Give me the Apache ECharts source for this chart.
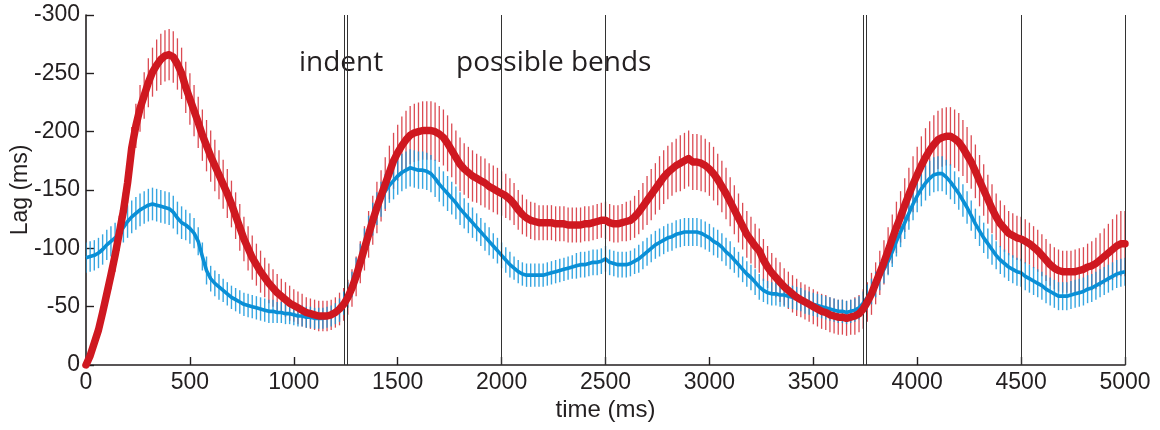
<!DOCTYPE html>
<html>
<head>
<meta charset="utf-8">
<script src="https://cdn.jsdelivr.net/npm/echarts/dist/echarts.min.js"></script>
<style>
html,body{margin:0;padding:0;background:#fff;}
#chart{width:1160px;height:430px;}
</style>
</head>
<body>
<div id="chart"></div>
<script>
// sample step of the recording (ms)
const stepMs = 20;

// red (thick) series: mean lag, ms, one value every 20 ms from 0 to 5000
const redLag = [
  0,-8,-19,-30,-45,-61,-77,-94,-113,-132,
  -156,-186,-205,-220,-231,-242,-251,-257,-262,-265,
  -266,-264,-258,-250,-238,-228,-218,-208,-197,-188,
  -179,-171,-163,-155,-147,-138,-128,-118,-108,-100,
  -92,-86,-80,-75,-70,-66,-62,-59,-56,-53,
  -51,-49,-47,-45,-44,-43,-42,-42,-42,-43,
  -45,-48,-52,-58,-66,-76,-88,-100,-112,-124,
  -135,-145,-155,-165,-175,-182,-188,-193,-197,-199,
  -200,-201,-201,-201,-200,-198,-195,-190,-184,-178,
  -172,-168,-165,-162,-160,-158,-156,-153,-151,-149,
  -147,-145,-142,-138,-133,-129,-126,-124,-123,-122,
  -122,-122,-122,-121,-121,-121,-120,-120,-120,-120,
  -121,-121,-122,-123,-124,-124,-122,-121,-121,-122,
  -123,-124,-127,-131,-136,-141,-146,-151,-156,-161,
  -165,-168,-171,-173,-175,-177,-174,-174,-173,-171,
  -168,-164,-159,-153,-147,-140,-133,-126,-119,-112,
  -107,-102,-98,-90,-84,-79,-75,-71,-67,-64,
  -61,-58,-56,-54,-52,-50,-48,-46,-45,-43,
  -42,-41,-41,-40,-41,-42,-44,-48,-54,-61,
  -70,-79,-88,-98,-108,-118,-127,-137,-146,-155,
  -163,-171,-178,-184,-189,-193,-195,-196,-196,-194,
  -191,-186,-180,-174,-166,-158,-150,-142,-134,-127,
  -121,-117,-113,-111,-109,-108,-106,-104,-101,-98,
  -94,-90,-86,-83,-81,-80,-80,-80,-80,-81,
  -82,-84,-85,-87,-90,-93,-96,-99,-102,-104,
  -104
];

// red error bar half-lengths (ms)
const redErr = [
  0,2,4,6,8,10,12,14,15,16,
  17,18,19,20,20,21,21,22,22,22,
  22,22,22,22,22,22,22,22,22,22,
  22,22,21,21,21,20,20,20,19,19,
  19,18,18,17,17,16,16,15,15,15,
  14,14,14,13,13,13,13,13,13,13,
  13,14,14,15,16,17,18,19,20,21,
  22,22,23,23,24,24,25,25,25,25,
  25,25,25,25,25,24,24,24,23,23,
  23,22,22,22,21,21,21,20,20,20,
  19,19,18,18,17,17,16,16,16,15,
  15,15,15,15,15,15,15,15,15,15,
  15,15,15,15,15,16,16,16,16,16,
  17,17,18,19,20,21,22,22,23,23,
  23,23,23,24,24,24,24,24,24,23,
  23,23,22,22,22,21,21,21,20,20,
  20,19,19,18,18,17,17,17,16,16,
  16,16,15,15,15,15,15,15,15,15,
  15,15,15,15,15,16,16,17,17,18,
  18,19,19,20,21,22,22,23,23,24,
  24,25,25,25,25,25,25,25,25,25,
  25,24,24,23,23,22,22,21,21,20,
  20,20,19,19,19,19,19,18,18,18,
  18,18,18,18,18,18,18,18,19,19,
  19,20,21,22,23,24,25,26,27,28,
  28
];

// blue (thin) series: mean lag, ms, one value every 20 ms from 0 to 5000
const blueLag = [
  -92,-93,-94,-96,-99,-103,-106,-109,-113,-118,
  -123,-127,-130,-133,-135,-137,-138,-137,-136,-135,
  -134,-131,-126,-122,-120,-117,-113,-106,-93,-81,
  -74,-70,-67,-64,-61,-58,-56,-54,-52,-51,
  -50,-49,-48,-47,-46,-46,-45,-45,-44,-44,
  -43,-42,-42,-41,-41,-40,-40,-40,-41,-42,
  -44,-47,-53,-60,-69,-80,-92,-104,-115,-125,
  -134,-142,-149,-154,-158,-162,-165,-167,-169,-168,
  -167,-167,-166,-164,-160,-155,-151,-147,-143,-139,
  -134,-130,-126,-122,-118,-114,-110,-106,-102,-98,
  -94,-90,-86,-83,-80,-78,-77,-77,-77,-77,
  -77,-78,-79,-80,-81,-82,-83,-84,-85,-86,
  -86,-87,-88,-88,-89,-91,-88,-87,-86,-86,
  -86,-87,-89,-91,-94,-97,-100,-103,-105,-107,
  -109,-110,-112,-113,-114,-114,-114,-114,-113,-111,
  -109,-106,-104,-101,-97,-94,-90,-86,-82,-78,
  -75,-71,-67,-64,-62,-61,-61,-60,-60,-59,
  -58,-57,-56,-54,-53,-52,-51,-50,-49,-48,
  -47,-46,-46,-45,-46,-47,-49,-53,-58,-63,
  -69,-76,-82,-89,-97,-106,-114,-122,-130,-138,
  -145,-151,-156,-160,-163,-164,-164,-161,-157,-152,
  -147,-141,-135,-128,-121,-115,-109,-104,-99,-94,
  -90,-87,-84,-82,-80,-79,-76,-74,-72,-70,
  -68,-65,-63,-61,-59,-59,-59,-60,-61,-62,
  -63,-65,-66,-68,-70,-72,-74,-76,-78,-79,
  -80
];

// blue error bar half-lengths (ms)
const blueErr = [
  13,13,13,13,13,13,13,13,13,13,
  14,14,14,14,14,14,14,14,14,14,
  14,14,14,14,13,13,13,12,12,12,
  11,11,11,10,10,10,10,10,10,10,
  10,10,10,10,10,10,9,9,9,9,
  9,9,9,9,9,9,9,9,9,9,
  9,10,10,11,11,12,12,13,13,14,
  14,15,15,15,16,16,16,16,16,16,
  16,16,16,16,16,15,15,15,14,14,
  14,13,13,13,12,12,12,12,11,11,
  11,11,11,10,10,10,10,10,10,10,
  10,10,10,10,10,10,10,10,11,11,
  11,11,11,11,11,11,11,11,11,11,
  11,11,11,12,12,12,12,12,12,12,
  12,12,12,12,12,12,12,12,12,12,
  12,12,12,12,12,12,11,11,11,11,
  11,11,11,10,10,10,10,10,10,10,
  10,10,10,10,10,10,10,10,10,10,
  10,10,10,10,10,10,10,10,11,11,
  11,12,12,12,13,13,13,14,14,14,
  14,15,15,15,15,15,15,15,15,14,
  14,14,14,13,13,13,13,13,13,12,
  12,12,12,12,12,12,12,12,12,12,
  12,12,12,12,12,12,12,12,12,12,
  12,12,12,12,12,12,12,12,12,12,
  12
];

// vertical event markers (ms)
const markerTimes = [1242, 1258, 2000, 2500, 3742, 3756, 4500, 5000];

// axis ticks
const xTicks = { min: 0, max: 5000, interval: 500 };
const yTicks = { min: -300, max: 0, interval: 50 };

// annotations
const annotations = ["indent", "possible bends"];

const times = redLag.map((_, i) => i * stepMs);
const redLine = times.map((t, i) => [t, redLag[i]]);
const blueLine = times.map((t, i) => [t, blueLag[i]]);
const redBars = times.map((t, i) => [t, redLag[i], redErr[i]]);
const blueBars = times.map((t, i) => [t, blueLag[i], blueErr[i]]);

function errRender(color, width) {
  return function (params, api) {
    const t = api.value(0), v = api.value(1), e = api.value(2);
    const a = api.coord([t, v - e]);
    const b = api.coord([t, v + e]);
    return {
      type: 'line',
      shape: { x1: a[0], y1: a[1], x2: b[0], y2: b[1] },
      style: { stroke: color, lineWidth: width }
    };
  };
}

const axisFont = "'Liberation Sans',Arial,sans-serif";
const ink = '#231f20';

const chart = echarts.init(document.getElementById('chart'), null, { renderer: 'canvas' });
chart.setOption({
  animation: false,
  backgroundColor: '#ffffff',
  grid: { left: 86, right: 35, top: 15, bottom: 65, containLabel: false, outerBoundsMode: 'none' },
  xAxis: {
    type: 'value',
    min: xTicks.min, max: xTicks.max, interval: xTicks.interval,
    name: 'time (ms)', nameLocation: 'middle', nameGap: 33, nameMoveOverlap: false,
    nameTextStyle: { fontFamily: axisFont, fontSize: 24, color: ink },
    axisLine: { show: true, onZero: false, lineStyle: { color: ink, width: 1.6 } },
    axisTick: { show: true, inside: true, length: 8, lineStyle: { color: ink, width: 1.4 } },
    axisLabel: { fontFamily: axisFont, fontSize: 23, color: ink, margin: 6, formatter: v => String(v) },
    splitLine: { show: false }
  },
  yAxis: {
    type: 'value', inverse: true,
    min: yTicks.min, max: yTicks.max, interval: yTicks.interval,
    name: 'Lag (ms)', nameLocation: 'middle', nameGap: 54, nameRotate: 90, nameMoveOverlap: false,
    nameTextStyle: { fontFamily: axisFont, fontSize: 23, color: ink },
    axisLine: { show: true, onZero: false, lineStyle: { color: ink, width: 1.6 } },
    axisTick: { show: true, inside: true, length: 8, lineStyle: { color: ink, width: 1.4 } },
    axisLabel: { fontFamily: axisFont, fontSize: 23, color: ink, margin: 6, formatter: v => String(v) },
    splitLine: { show: false }
  },
  graphic: [
    { type: 'text', left: 299, top: 49, style: { text: annotations[0], font: "28px 'Open Sans', sans-serif", fill: ink } },
    { type: 'text', left: 456, top: 49, style: { text: annotations[1], font: "28px 'Open Sans', sans-serif", fill: ink } }
  ],
  series: [
    {
      type: 'custom', name: 'redErr', data: redBars, clip: true,
      encode: { x: 0, y: 1 },
      renderItem: errRender('rgba(210,30,40,0.8)', 1.3), z: 2
    },
    {
      type: 'custom', name: 'blueErr', data: blueBars, clip: true,
      encode: { x: 0, y: 1 },
      renderItem: errRender('rgba(20,150,220,0.85)', 1.4), z: 3
    },
    {
      type: 'line', name: 'blue', data: blueLine, showSymbol: false, symbol: 'none',
      lineStyle: { color: '#0a8fd6', width: 3.6, join: 'round' }, z: 4,
      markLine: {
        silent: true, symbol: ['none', 'none'],
        label: { show: false },
        lineStyle: { color: '#333333', width: 1, type: 'solid' },
        data: markerTimes.map(t => ({ xAxis: t }))
      }
    },
    {
      type: 'line', name: 'red', data: redLine, showSymbol: false, symbol: 'none',
      lineStyle: { color: '#cf1820', width: 7.5, join: 'round', cap: 'round' }, z: 5
    }
  ]
});
</script>
</body>
</html>
